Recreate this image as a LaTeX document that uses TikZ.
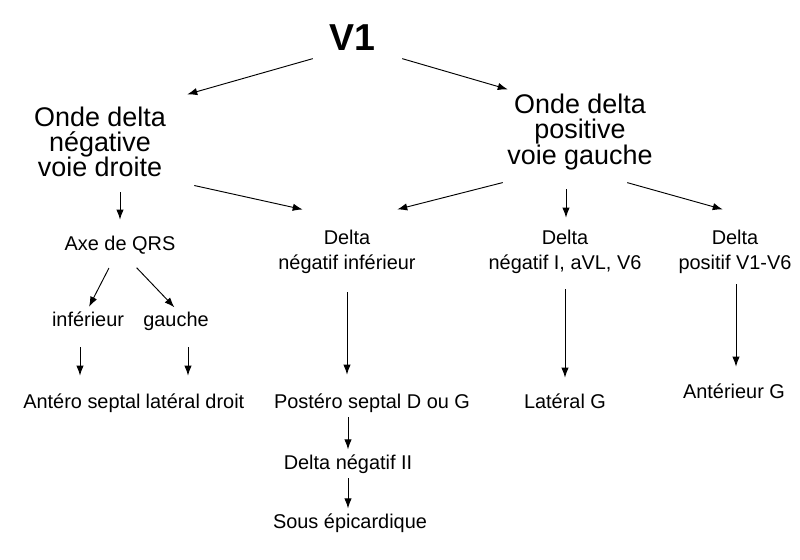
\documentclass[tikz,border=0pt]{standalone}
\usepackage{fontspec}
\setmainfont{Liberation Sans}
\usetikzlibrary{arrows.meta}
\begin{document}
\begin{tikzpicture}[x=0.03cm,y=-0.03cm,
	big/.style={font=\fontsize{23}{21.5}\selectfont,align=center,inner sep=2pt},
	small/.style={font=\fontsize{17}{21.5}\selectfont,align=center,inner sep=2pt},
	arr/.style={thick,-{Latex[length=3mm,width=2.2mm]},shorten <=2pt,shorten >=2pt}]
			\useasboundingbox (0,0) rectangle (800,560);
			\node at (352,38) [font=\fontsize{32}{36}\selectfont\bfseries] (v1) {V1};
			\node at (100,142) [big] (neg) {Onde delta\\négative\\voie droite};
			\node at (580,132) [big] (pos) {Onde delta\\positive\\voie gauche};
			
			\node at (120,245) [small] (axe) {Axe de QRS};
			\node at (347,252) [small] (dinf) {Delta\\négatif inférieur};
			\node at (565,252) [small] (dlat) {Delta\\négatif I, aVL, V6};
			\node at (735,252) [small] (dant) {Delta\\positif V1-V6};
			
			\node at (88,326) [small,anchor=base] (inf) {inférieur};
			\node at (176,326) [small,anchor=base] (gau) {gauche};
			
			\node at (82,408) [small,anchor=base] (antsep) {Antéro septal};
			\node at (195,408) [small,anchor=base] (latdr) {latéral droit};
			\node at (372,408) [small,anchor=base] (postsep) {Postéro septal D ou G};
			\node at (565,408) [small,anchor=base] (latg) {Latéral G};
			\node at (734,398) [small,anchor=base] (antg) {Antérieur G};
			\node at (348,469) [small,anchor=base] (dII) {Delta négatif II};
			\node at (350,528) [small,anchor=base] (sous) {Sous épicardique};
			
			\draw [arr] (315,58) -- (185,95);
			\draw [arr] (400,58) -- (510,90);
			\draw [arr] (120,190) -- (120,222);
			\draw [arr] (192,185) -- (305,210);
			\draw [arr] (505,182) -- (395,210);
			\draw [arr] (566,187) -- (566,220);
			\draw [arr] (625,182) -- (725,210);
			\draw [arr] (110,266) -- (inf.north);
			\draw [arr] (135,266) -- (gau.north);
			\draw [arr] (80,345) -- (80,378);
			\draw [arr] (188,345) -- (188,378);
			\draw [arr] (347,290) -- (347,377);
			\draw [arr] (565,287) -- (565,380);
			\draw [arr] (736,282) -- (736,369);
			\draw [arr] (postsep.south -| dII) -- (dII.north);
			\draw [arr] (dII.south -| 348,0) -- (sous.north -| 348,0);
\end{tikzpicture}
\end{document}
